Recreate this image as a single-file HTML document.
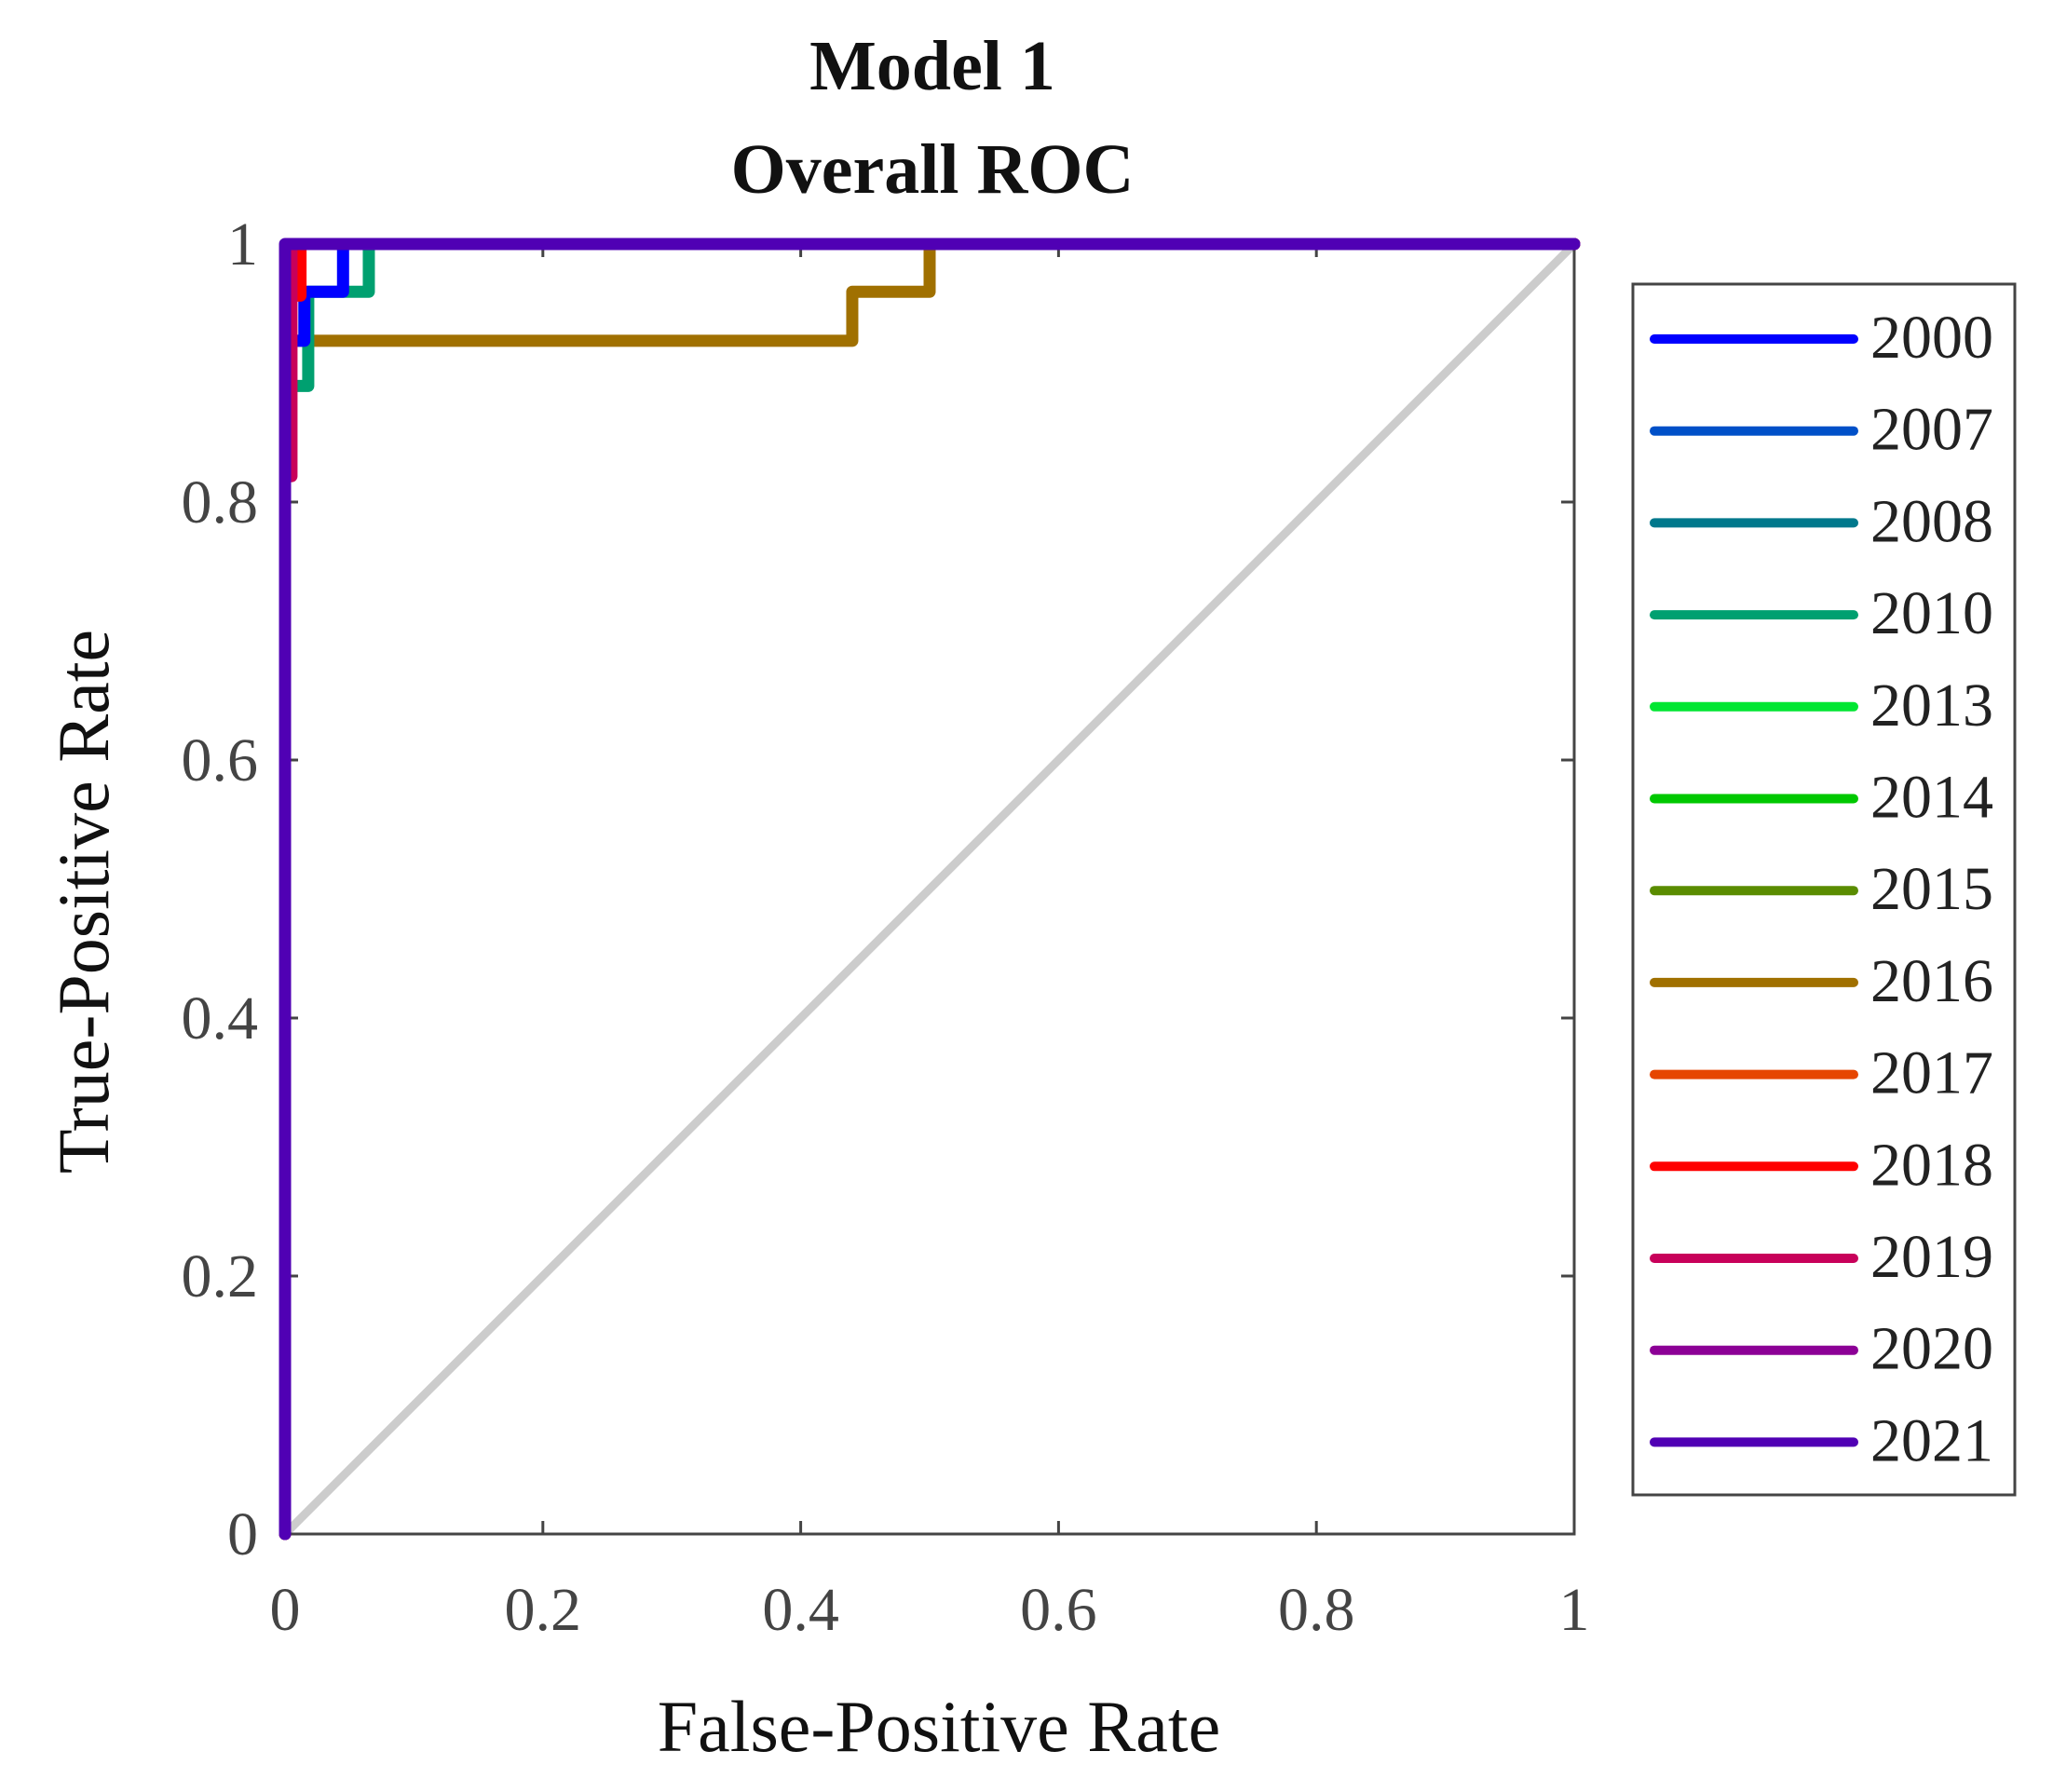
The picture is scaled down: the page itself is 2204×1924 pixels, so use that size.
<!DOCTYPE html>
<html><head><meta charset="utf-8">
<style>
html,body{margin:0;padding:0;background:#fff;}
svg{display:block;font-family:"Liberation Serif",serif;}
</style></head>
<body>
<svg id="chart" width="2204" height="1924" viewBox="0 0 2204 1924">
<text x="1001" y="96" font-size="76" font-weight="bold" text-anchor="middle" fill="#111">Model 1</text>
<text x="1001" y="207" font-size="76" font-weight="bold" text-anchor="middle" fill="#111">Overall ROC</text>
<g id="axes"></g>
<g id="series"></g>
<text x="1008" y="1880" font-size="78" text-anchor="middle" fill="#111">False-Positive Rate</text>
<text transform="translate(116,968) rotate(-90)" font-size="78" text-anchor="middle" fill="#111">True-Positive Rate</text>
<g id="legend"></g>
</svg>
<script>
const ticks=[0,0.2,0.4,0.6,0.8,1];
const tickLabels=["0","0.2","0.4","0.6","0.8","1"];
const years=["2000","2007","2008","2010","2013","2014","2015","2016","2017","2018","2019","2020","2021"];
const colors=["#0000ff","#0050c8","#00788c","#00a070","#00e632","#00c800","#5a8c00","#a07000","#e64600","#ff0000","#c8005a","#8c0096","#5000b4"];
const fpr2000=[0,0,0.015,0.015,0.045,0.045,1];
const tpr2000=[0,0.925,0.925,0.963,0.963,1,1];
const fpr2010=[0,0,0.018,0.018,0.065,0.065,1];
const tpr2010=[0,0.89,0.89,0.963,0.963,1,1];
const fpr2016=[0,0,0.44,0.44,0.5,0.5,1];
const tpr2016=[0,0.925,0.925,0.963,0.963,1,1];
const fpr2018=[0,0,0.012,0.012,1];
const tpr2018=[0,0.96,0.96,1,1];
const fpr2019=[0,0,0.005,0.005,1];
const tpr2019=[0,0.82,0.82,1,1];
const fpr2021=[0,0,1];
const tpr2021=[0,1,1];
const L=306,R=1690,T=262,B=1647;
const sx=v=>L+v*(R-L), sy=v=>B-v*(B-T);
const NS="http://www.w3.org/2000/svg";
function mk(tag,attrs,parent){const e=document.createElementNS(NS,tag);for(const k in attrs)e.setAttribute(k,attrs[k]);parent.appendChild(e);return e;}
const axes=document.getElementById('axes');
const diag=mk('line',{x1:sx(0),y1:sy(0),x2:sx(1),y2:sy(1),stroke:'#cccccc','stroke-width':9},axes);


const box=mk('rect',{x:L,y:T,width:R-L,height:B-T,fill:'none',stroke:'#444','stroke-width':3},axes);


ticks.forEach((t,i)=>{
  mk('line',{x1:sx(t),y1:B,x2:sx(t),y2:B-14,stroke:'#444','stroke-width':3},axes);
  mk('line',{x1:sx(t),y1:T,x2:sx(t),y2:T+14,stroke:'#444','stroke-width':3},axes);
  mk('line',{x1:L,y1:sy(t),x2:L+14,y2:sy(t),stroke:'#444','stroke-width':3},axes);
  mk('line',{x1:R,y1:sy(t),x2:R-14,y2:sy(t),stroke:'#444','stroke-width':3},axes);
  const xt=mk('text',{x:sx(t),y:1750,'font-size':66,'text-anchor':'middle',fill:'#444'},axes);
  xt.textContent=tickLabels[i];
  
  
  const yt=mk('text',{x:277,y:sy(t)+22,'font-size':66,'text-anchor':'end',fill:'#444'},axes);
  yt.textContent=tickLabels[i];
  
  
});
const ser=document.getElementById('series');
function curve(xs,ys,col,name){
  const pts=xs.map((x,i)=>sx(x)+','+sy(ys[i])).join(' ');
  const p=mk('polyline',{points:pts,fill:'none',stroke:col,'stroke-width':13,'stroke-linejoin':'round','stroke-linecap':'round'},ser);
  
  
}
curve(fpr2016,tpr2016,colors[7],'roc-line-2016');
curve(fpr2010,tpr2010,colors[3],'roc-line-2010');
curve(fpr2000,tpr2000,colors[0],'roc-line-2000');
curve(fpr2018,tpr2018,colors[9],'roc-line-2018');
curve(fpr2019,tpr2019,colors[10],'roc-line-2019');
curve(fpr2021,tpr2021,colors[12],'roc-line-2021');
const lg=document.getElementById('legend');
const lb=mk('rect',{x:1753,y:305,width:410,height:1300,fill:'#fff',stroke:'#444','stroke-width':3},lg);


years.forEach((y,i)=>{
  const yy=364+i*98.7;
  const ln=mk('line',{x1:1776,y1:yy,x2:1990,y2:yy,stroke:colors[i],'stroke-width':10,'stroke-linecap':'round'},lg);
  
  
  const tx=mk('text',{x:2008,y:yy+20,'font-size':66,fill:'#222'},lg);
  tx.textContent=y;
  
  
});
</script>
</body></html>
